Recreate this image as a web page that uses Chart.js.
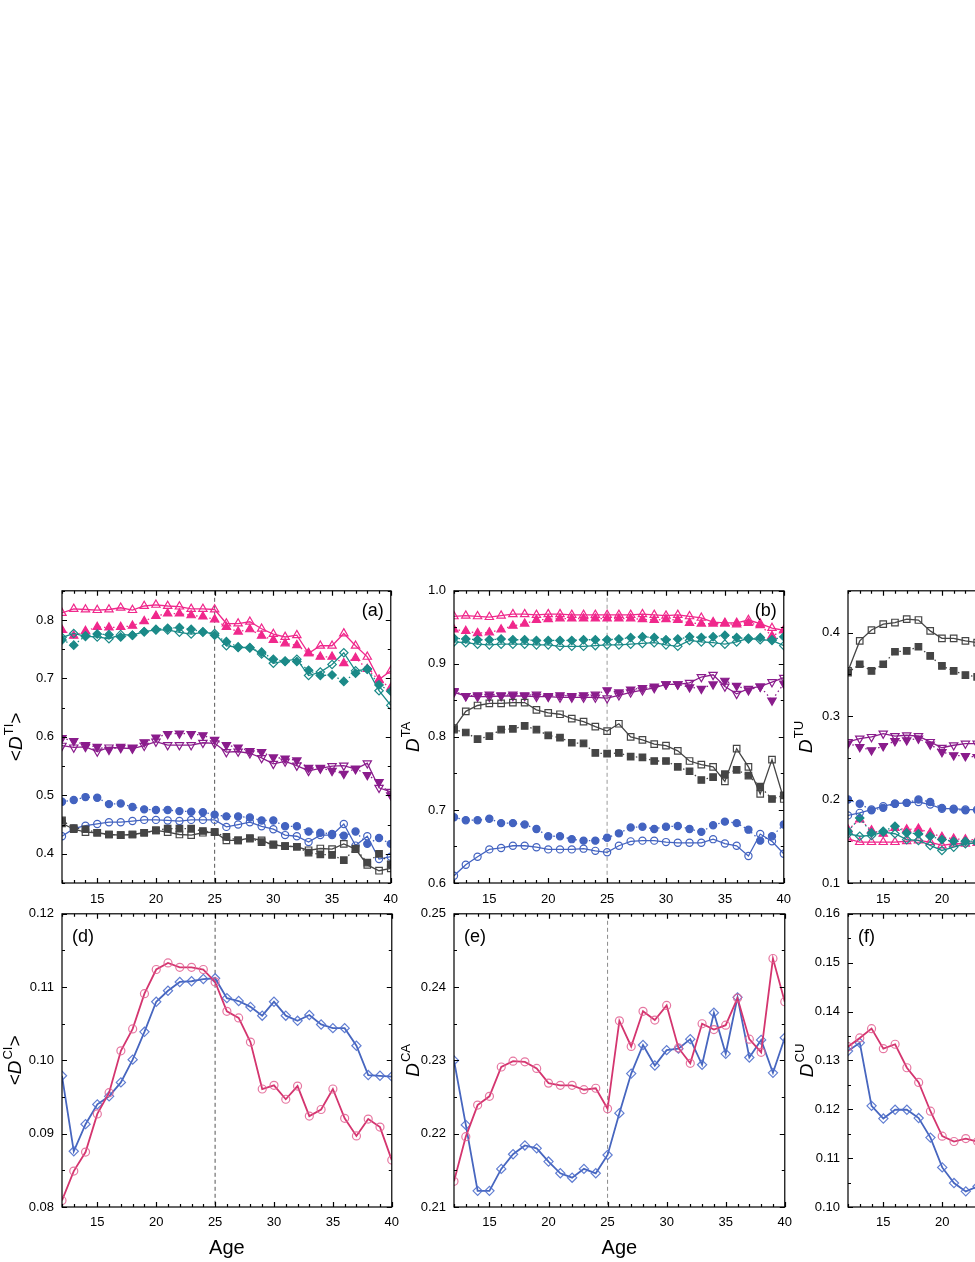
<!DOCTYPE html>
<html>
<head>
<meta charset="utf-8">
<script src="https://cdn.jsdelivr.net/npm/chart.js@4.4.1/dist/chart.umd.min.js"></script>
<style>
  html, body { margin: 0; padding: 0; background: #fff; overflow: hidden; }
  body { width: 975px; height: 1262px; position: relative; }
  canvas { position: absolute; }
</style>
</head>
<body>
<canvas id="pa"></canvas>
<canvas id="pb"></canvas>
<canvas id="pc"></canvas>
<canvas id="pd"></canvas>
<canvas id="pe"></canvas>
<canvas id="pf"></canvas>
<script>
// ages on the x axis (panels c and f run off the right edge, so only the first part is kept)
const ages = [12, 13, 14, 15, 16, 17, 18, 19, 20, 21, 22, 23, 24, 25, 26, 27, 28, 29, 30, 31, 32, 33, 34, 35, 36, 37, 38, 39, 40];
const agesShort = ages.slice(0, 12);

const xTicks = [15, 20, 25, 30, 35, 40];
const yTicksA = [0.4, 0.5, 0.6, 0.7, 0.8];
const yTicksB = [0.6, 0.7, 0.8, 0.9, 1.0];
const yTicksC = [0.1, 0.2, 0.3, 0.4];
const yTicksD = [0.08, 0.09, 0.10, 0.11, 0.12];
const yTicksE = [0.21, 0.22, 0.23, 0.24, 0.25];
const yTicksF = [0.10, 0.11, 0.12, 0.13, 0.14, 0.15, 0.16];

// (a) <D^TI>
const aPinkOpen   = [0.812, 0.819, 0.818, 0.817, 0.818, 0.821, 0.817, 0.824, 0.826, 0.824, 0.823, 0.819, 0.819, 0.818, 0.794, 0.794, 0.797, 0.785, 0.776, 0.771, 0.774, 0.743, 0.756, 0.756, 0.777, 0.756, 0.737, 0.698, 0.713];
const aPinkFill   = [0.783, 0.773, 0.781, 0.788, 0.787, 0.788, 0.790, 0.798, 0.807, 0.811, 0.811, 0.808, 0.806, 0.801, 0.788, 0.780, 0.784, 0.773, 0.766, 0.760, 0.757, 0.743, 0.737, 0.737, 0.726, 0.735, 0.716, 0.697, 0.684];
const aTealOpen   = [0.770, 0.777, 0.772, 0.771, 0.768, 0.775, 0.774, 0.780, 0.783, 0.783, 0.779, 0.776, 0.779, 0.777, 0.756, 0.753, 0.753, 0.742, 0.726, 0.730, 0.733, 0.705, 0.711, 0.724, 0.744, 0.713, 0.716, 0.679, 0.654];
const aTealFill   = [0.766, 0.757, 0.773, 0.776, 0.775, 0.771, 0.774, 0.780, 0.784, 0.786, 0.787, 0.784, 0.780, 0.774, 0.763, 0.754, 0.752, 0.745, 0.733, 0.729, 0.729, 0.714, 0.705, 0.706, 0.695, 0.709, 0.716, 0.689, 0.678];
const aPurpleOpen = [0.585, 0.582, 0.583, 0.575, 0.582, 0.581, 0.580, 0.585, 0.592, 0.586, 0.586, 0.586, 0.590, 0.589, 0.574, 0.575, 0.572, 0.564, 0.554, 0.558, 0.551, 0.542, 0.546, 0.550, 0.551, 0.545, 0.555, 0.513, 0.506];
const aPurpleFill = [0.598, 0.593, 0.586, 0.583, 0.578, 0.583, 0.582, 0.591, 0.599, 0.605, 0.606, 0.605, 0.603, 0.595, 0.586, 0.582, 0.576, 0.574, 0.565, 0.563, 0.560, 0.547, 0.547, 0.542, 0.537, 0.546, 0.535, 0.523, 0.500];
const aBlueOpen   = [0.430, 0.443, 0.448, 0.451, 0.454, 0.454, 0.456, 0.458, 0.458, 0.457, 0.456, 0.458, 0.458, 0.458, 0.446, 0.450, 0.454, 0.447, 0.442, 0.432, 0.430, 0.420, 0.432, 0.432, 0.451, 0.414, 0.430, 0.391, 0.395];
const aBlueFill   = [0.489, 0.492, 0.497, 0.496, 0.485, 0.486, 0.480, 0.476, 0.475, 0.475, 0.473, 0.472, 0.471, 0.467, 0.464, 0.464, 0.462, 0.457, 0.457, 0.447, 0.447, 0.438, 0.436, 0.434, 0.431, 0.438, 0.417, 0.427, 0.417];
const aGrayOpen   = [0.452, 0.442, 0.437, 0.436, 0.433, 0.432, 0.433, 0.436, 0.440, 0.437, 0.433, 0.432, 0.436, 0.437, 0.423, 0.423, 0.427, 0.423, 0.415, 0.413, 0.412, 0.406, 0.409, 0.408, 0.417, 0.408, 0.381, 0.371, 0.375];
const aGrayFill   = [0.457, 0.444, 0.442, 0.436, 0.433, 0.432, 0.433, 0.436, 0.440, 0.443, 0.443, 0.443, 0.439, 0.437, 0.429, 0.423, 0.426, 0.420, 0.416, 0.413, 0.412, 0.402, 0.399, 0.398, 0.389, 0.409, 0.385, 0.400, 0.382];

// (b) D^TA
const bPinkOpen   = [0.965, 0.966, 0.965, 0.964, 0.966, 0.968, 0.968, 0.967, 0.968, 0.968, 0.967, 0.967, 0.967, 0.967, 0.967, 0.967, 0.968, 0.967, 0.966, 0.967, 0.965, 0.963, 0.957, 0.956, 0.956, 0.960, 0.955, 0.949, 0.946];
const bPinkFill   = [0.947, 0.945, 0.942, 0.943, 0.947, 0.952, 0.955, 0.960, 0.961, 0.962, 0.962, 0.962, 0.962, 0.962, 0.962, 0.962, 0.961, 0.960, 0.961, 0.960, 0.956, 0.955, 0.955, 0.955, 0.954, 0.956, 0.953, 0.938, 0.946];
const bTealOpen   = [0.930, 0.929, 0.927, 0.926, 0.927, 0.927, 0.927, 0.926, 0.926, 0.924, 0.924, 0.924, 0.925, 0.926, 0.926, 0.927, 0.928, 0.929, 0.926, 0.924, 0.932, 0.930, 0.929, 0.927, 0.930, 0.935, 0.933, 0.932, 0.925];
const bTealFill   = [0.935, 0.934, 0.933, 0.933, 0.934, 0.933, 0.933, 0.932, 0.932, 0.932, 0.932, 0.933, 0.933, 0.933, 0.934, 0.936, 0.937, 0.936, 0.933, 0.934, 0.937, 0.936, 0.937, 0.939, 0.936, 0.934, 0.936, 0.933, 0.937];
const bPurpleOpen = [0.861, 0.856, 0.855, 0.855, 0.856, 0.856, 0.856, 0.855, 0.855, 0.854, 0.854, 0.854, 0.854, 0.853, 0.857, 0.861, 0.864, 0.867, 0.872, 0.872, 0.874, 0.882, 0.885, 0.869, 0.859, 0.866, 0.869, 0.875, 0.881];
const bPurpleFill = [0.863, 0.856, 0.857, 0.858, 0.857, 0.858, 0.857, 0.858, 0.856, 0.857, 0.856, 0.857, 0.858, 0.864, 0.861, 0.865, 0.867, 0.869, 0.872, 0.872, 0.868, 0.866, 0.872, 0.877, 0.870, 0.864, 0.869, 0.850, 0.873];
const bGrayOpen   = [0.812, 0.835, 0.843, 0.846, 0.846, 0.847, 0.847, 0.837, 0.833, 0.831, 0.825, 0.821, 0.814, 0.808, 0.818, 0.800, 0.796, 0.790, 0.788, 0.781, 0.767, 0.762, 0.759, 0.739, 0.784, 0.759, 0.722, 0.769, 0.715];
const bGrayFill   = [0.810, 0.806, 0.797, 0.801, 0.810, 0.811, 0.815, 0.810, 0.802, 0.799, 0.792, 0.791, 0.778, 0.777, 0.778, 0.773, 0.772, 0.767, 0.767, 0.759, 0.753, 0.741, 0.745, 0.749, 0.755, 0.747, 0.732, 0.715, 0.720];
const bBlueOpen   = [0.610, 0.625, 0.636, 0.646, 0.648, 0.651, 0.651, 0.649, 0.646, 0.646, 0.646, 0.647, 0.644, 0.642, 0.651, 0.657, 0.658, 0.658, 0.656, 0.655, 0.655, 0.655, 0.660, 0.654, 0.651, 0.637, 0.667, 0.657, 0.640];
const bBlueFill   = [0.690, 0.686, 0.686, 0.688, 0.682, 0.682, 0.680, 0.674, 0.664, 0.664, 0.660, 0.658, 0.658, 0.662, 0.668, 0.676, 0.677, 0.674, 0.677, 0.678, 0.674, 0.670, 0.679, 0.684, 0.682, 0.673, 0.658, 0.664, 0.680];

// (c) D^TU, ages 12-23
const cPinkOpen   = [0.153, 0.149, 0.149, 0.149, 0.149, 0.150, 0.151, 0.149, 0.145, 0.147, 0.147, 0.148];
const cPinkFill   = [0.164, 0.176, 0.163, 0.159, 0.166, 0.164, 0.165, 0.160, 0.155, 0.153, 0.152, 0.152];
const cTealOpen   = [0.159, 0.156, 0.157, 0.161, 0.159, 0.152, 0.151, 0.145, 0.139, 0.143, 0.147, 0.148];
const cTealFill   = [0.162, 0.178, 0.160, 0.162, 0.168, 0.160, 0.159, 0.156, 0.152, 0.150, 0.150, 0.150];
const cPurpleOpen = [0.269, 0.273, 0.275, 0.279, 0.276, 0.277, 0.276, 0.269, 0.262, 0.265, 0.267, 0.267];
const cPurpleFill = [0.267, 0.263, 0.259, 0.264, 0.270, 0.271, 0.273, 0.266, 0.257, 0.253, 0.252, 0.251];
const cBlueOpen   = [0.181, 0.184, 0.188, 0.192, 0.195, 0.196, 0.197, 0.194, 0.189, 0.189, 0.188, 0.188];
const cBlueFill   = [0.200, 0.195, 0.187, 0.190, 0.195, 0.196, 0.200, 0.197, 0.190, 0.188, 0.187, 0.187];
const cGrayOpen   = [0.354, 0.390, 0.403, 0.410, 0.412, 0.416, 0.415, 0.402, 0.393, 0.393, 0.390, 0.388];
const cGrayFill   = [0.352, 0.362, 0.354, 0.362, 0.377, 0.378, 0.383, 0.372, 0.360, 0.354, 0.349, 0.347];

// (d) <D^CI>, (e) D^CA, (f) D^CU
const dPink = [0.0809, 0.0849, 0.0875, 0.0927, 0.0956, 0.1013, 0.1043, 0.1091, 0.1124, 0.1133, 0.1127, 0.1127, 0.1124, 0.1107, 0.1067, 0.1058, 0.1025, 0.0961, 0.0966, 0.0947, 0.0965, 0.0924, 0.0933, 0.0961, 0.0921, 0.0897, 0.0920, 0.0909, 0.0864];
const dBlue = [0.0979, 0.0876, 0.0913, 0.0940, 0.0951, 0.0970, 0.1001, 0.1039, 0.1080, 0.1095, 0.1107, 0.1108, 0.1111, 0.1112, 0.1085, 0.1081, 0.1073, 0.1061, 0.1080, 0.1061, 0.1054, 0.1062, 0.1049, 0.1044, 0.1044, 0.1020, 0.0980, 0.0979, 0.0978];
const ePink = [0.2135, 0.2196, 0.2239, 0.2251, 0.2291, 0.2299, 0.2298, 0.2289, 0.2269, 0.2266, 0.2266, 0.2260, 0.2262, 0.2234, 0.2354, 0.2319, 0.2367, 0.2355, 0.2375, 0.2317, 0.2296, 0.2350, 0.2342, 0.2348, 0.2385, 0.2329, 0.2311, 0.2439, 0.2380];
const eBlue = [0.2300, 0.2212, 0.2122, 0.2122, 0.2152, 0.2172, 0.2184, 0.2180, 0.2162, 0.2146, 0.2140, 0.2152, 0.2146, 0.2171, 0.2228, 0.2282, 0.2321, 0.2293, 0.2314, 0.2316, 0.2329, 0.2294, 0.2365, 0.2309, 0.2386, 0.2304, 0.2328, 0.2283, 0.2331];
const fPink = [0.1328, 0.1346, 0.1365, 0.1324, 0.1333, 0.1285, 0.1255, 0.1196, 0.1145, 0.1134, 0.1140, 0.1134];
const fBlue = [0.1319, 0.1336, 0.1207, 0.1181, 0.1199, 0.1199, 0.1182, 0.1142, 0.1081, 0.1049, 0.1032, 0.1042];

const FONT = '"Liberation Sans", Arial, sans-serif';
const PINK = '#F0288C', TEAL = '#1B8A88', PURPLE = '#8A1C8C', BLUE = '#4363C0', GRAY = '#454545';
const RED2 = '#D4356F', BLUE2 = '#4766BF';

const UP = { style: 'triangle', rot: 0, r: 4.8 };
const DOWN = { style: 'triangle', rot: 180, r: 4.8 };
const DIAMOND = { style: 'rectRot', rot: 0, r: 4.2 };
const CIRCLE = { style: 'circle', rot: 0, r: 3.6 };
const SQUARE = { style: 'rect', rot: 0, r: 4.6 };

function series(xs, values, color, shape, filled, width, markColor) {
    return {
        data: values.map((v, i) => ({ x: xs[i], y: v })),
        borderColor: color,
        backgroundColor: color,
        borderWidth: width,
        borderDash: filled ? [1.5, 3] : [],
        pointStyle: shape.style,
        pointRotation: shape.rot,
        pointRadius: shape.r,
        pointBorderWidth: 1.2,
        pointBorderColor: markColor || color,
        pointBackgroundColor: filled ? color : 'rgba(255,255,255,0)',
        tension: 0,
    };
}

// both states of the five groups, used in the three top panels
function topSets(xs, gO, gF, bO, bF, pO, pF, tO, tF, kO, kF) {
    return [
        series(xs, gF, GRAY, SQUARE, true, 1.3), series(xs, gO, GRAY, SQUARE, false, 1.3),
        series(xs, bF, BLUE, CIRCLE, true, 1.3), series(xs, bO, BLUE, CIRCLE, false, 1.3),
        series(xs, pF, PURPLE, DOWN, true, 1.3), series(xs, pO, PURPLE, DOWN, false, 1.3),
        series(xs, tF, TEAL, DIAMOND, true, 1.3), series(xs, tO, TEAL, DIAMOND, false, 1.3),
        series(xs, kF, PINK, UP, true, 1.3), series(xs, kO, PINK, UP, false, 1.3),
    ];
}

function bottomSets(xs, red, blue) {
    return [
        series(xs, red, RED2, { style: 'circle', rot: 0, r: 4 }, false, 1.8, 'rgba(226,96,146,0.85)'),
        series(xs, blue, BLUE2, { style: 'rectRot', rot: 0, r: 4.6 }, false, 1.8, 'rgba(80,112,205,0.9)'),
    ];
}

// rotated axis title built from pieces: [text, kind] with kind '' / 'i' (italic) / 's' (superscript)
function drawVTitle(ctx, parts, bx, cy, size) {
    const fontOf = k => (k === 'i' ? 'italic ' : '') + (k === 's' ? Math.round(size * 0.66) : size) + 'px ' + FONT;
    let total = 0;
    parts.forEach(([t, k]) => { ctx.font = fontOf(k); total += ctx.measureText(t).width + (k === 's' ? 1 : 0); });
    ctx.save();
    ctx.translate(bx, cy);
    ctx.rotate(-Math.PI / 2);
    ctx.fillStyle = '#000';
    ctx.textBaseline = 'alphabetic';
    ctx.textAlign = 'left';
    let x = -total / 2;
    parts.forEach(([t, k]) => {
        ctx.font = fontOf(k);
        if (k === 's') x += 1;
        ctx.fillText(t, x, k === 's' ? -size * 0.45 : 0);
        x += ctx.measureText(t).width;
    });
    ctx.restore();
}

function framePlugin(p) {
    return {
        id: 'frame',
        beforeDatasetsDraw(chart) {
            const { ctx, chartArea: a, scales: { x } } = chart;
            const px = x.getPixelForValue(25);
            ctx.save();
            ctx.strokeStyle = p.split;
            ctx.lineWidth = 1;
            ctx.setLineDash([4, 3]);
            ctx.beginPath();
            ctx.moveTo(px, a.top);
            ctx.lineTo(px, a.bottom);
            ctx.stroke();
            ctx.restore();
        },
        afterDraw(chart) {
            const { ctx, chartArea: a, scales: { x, y } } = chart;
            ctx.save();
            ctx.strokeStyle = '#000';
            ctx.lineWidth = 1.2;
            ctx.strokeRect(a.left, a.top, a.right - a.left, a.bottom - a.top);
            ctx.beginPath();
            // inward ticks on all four sides
            for (let v = 12; v <= 40; v++) {
                const len = v % 5 === 0 ? 5 : 3;
                const px = Math.round(x.getPixelForValue(v)) + 0.5;
                ctx.moveTo(px, a.bottom); ctx.lineTo(px, a.bottom - len);
                ctx.moveTo(px, a.top); ctx.lineTo(px, a.top + len);
            }
            const n = Math.round((p.yMax - p.yMin) / p.yMinor);
            for (let i = 0; i <= n; i++) {
                const v = p.yMin + i * p.yMinor;
                const major = p.yTicks.some(m => Math.abs(m - v) < 1e-9);
                const len = major ? 5 : 3;
                const py = Math.round(y.getPixelForValue(v)) + 0.5;
                ctx.moveTo(a.left, py); ctx.lineTo(a.left + len, py);
                ctx.moveTo(a.right, py); ctx.lineTo(a.right - len, py);
            }
            ctx.stroke();

            drawVTitle(ctx, p.title, p.titleX, (a.top + a.bottom) / 2, 19);

            ctx.fillStyle = '#000';
            ctx.font = '18px ' + FONT;
            ctx.textBaseline = 'middle';
            if (p.tagRight) {
                ctx.textAlign = 'right';
                ctx.fillText(p.tag, a.right - 7, a.top + 20);
            } else {
                ctx.textAlign = 'left';
                ctx.fillText(p.tag, a.left + 10, a.top + 23);
            }
            if (p.xTitle) {
                ctx.font = '20px ' + FONT;
                ctx.textAlign = 'center';
                ctx.fillText('Age', (a.left + a.right) / 2, a.bottom + 41);
            }
            ctx.restore();
        },
    };
}

const panels = [
    { id: 'pa', area: [62, 587, 395, 883], padB: 26, xPad: 9, yMin: 0.35, yMax: 0.85, yTicks: yTicksA, dec: 1, yMinor: 0.05,
      title: [['<', ''], ['D', 'i'], ['TI', 's'], ['>', '']], titleX: 22, tag: '(a)', tagRight: true, split: '#555',
      sets: topSets(ages, aGrayOpen, aGrayFill, aBlueOpen, aBlueFill, aPurpleOpen, aPurpleFill, aTealOpen, aTealFill, aPinkOpen, aPinkFill) },
    { id: 'pb', area: [454, 587, 788, 883], padB: 26, xPad: 9, yMin: 0.6, yMax: 1.0, yTicks: yTicksB, dec: 1, yMinor: 0.05,
      title: [['D', 'i'], ['TA', 's']], titleX: 27, tag: '(b)', tagRight: true, split: '#9a9a9a',
      sets: topSets(ages, bGrayOpen, bGrayFill, bBlueOpen, bBlueFill, bPurpleOpen, bPurpleFill, bTealOpen, bTealFill, bPinkOpen, bPinkFill) },
    { id: 'pc', area: [848, 587, 1181, 883], padB: 26, xPad: 9, yMin: 0.1, yMax: 0.45, yTicks: yTicksC, dec: 1, yMinor: 0.05,
      title: [['D', 'i'], ['TU', 's']], titleX: 26, tag: '(c)', tagRight: true, split: '#9a9a9a',
      sets: topSets(agesShort, cGrayOpen, cGrayFill, cBlueOpen, cBlueFill, cPurpleOpen, cPurpleFill, cTealOpen, cTealFill, cPinkOpen, cPinkFill) },
    { id: 'pd', area: [62, 910, 395, 1207], padB: 54, xPad: 8, yMin: 0.08, yMax: 0.12, yTicks: yTicksD, dec: 2, yMinor: 0.005,
      title: [['<', ''], ['D', 'i'], ['CI', 's'], ['>', '']], titleX: 21, tag: '(d)', tagRight: false, split: '#555', xTitle: true,
      sets: bottomSets(ages, dPink, dBlue) },
    { id: 'pe', area: [454, 910, 788, 1207], padB: 54, xPad: 8, yMin: 0.21, yMax: 0.25, yTicks: yTicksE, dec: 2, yMinor: 0.005,
      title: [['D', 'i'], ['CA', 's']], titleX: 27, tag: '(e)', tagRight: false, split: '#8a8a8a', xTitle: true,
      sets: bottomSets(ages, ePink, eBlue) },
    { id: 'pf', area: [848, 910, 1181, 1207], padB: 54, xPad: 8, yMin: 0.10, yMax: 0.16, yTicks: yTicksF, dec: 2, yMinor: 0.005,
      title: [['D', 'i'], ['CU', 's']], titleX: 27, tag: '(f)', tagRight: false, split: '#8a8a8a', xTitle: true,
      sets: bottomSets(agesShort, fPink, fBlue) },
];

function makePanel(p) {
    const [L, T, R, B] = p.area;
    const padL = 62, padT = 12, padR = 12;
    const cv = document.getElementById(p.id);
    cv.width = (R - L) + padL + padR;
    cv.height = (B - T) + padT + p.padB;
    cv.style.left = (L - padL) + 'px';
    cv.style.top = (T - padT) + 'px';

    new Chart(cv, {
        type: 'line',
        data: { datasets: p.sets },
        options: {
            responsive: false,
            animation: false,
            events: [],
            layout: { padding: { top: padT, right: padR, left: 0, bottom: 0 } },
            plugins: { legend: { display: false }, tooltip: { enabled: false } },
            scales: {
                x: {
                    type: 'linear', min: 12, max: 40,
                    grid: { display: false, drawTicks: false, tickLength: 0 }, border: { display: false },
                    afterBuildTicks: s => { s.ticks = xTicks.map(v => ({ value: v })); },
                    afterFit: s => { s.height = p.padB; },
                    ticks: { color: '#000', font: { size: 13, family: FONT }, padding: p.xPad, maxRotation: 0, autoSkip: false },
                },
                y: {
                    type: 'linear', min: p.yMin, max: p.yMax,
                    grid: { display: false, drawTicks: false, tickLength: 0 }, border: { display: false },
                    afterBuildTicks: s => { s.ticks = p.yTicks.map(v => ({ value: v })); },
                    afterFit: s => { s.width = padL; },
                    ticks: { color: '#000', font: { size: 13, family: FONT }, padding: 8, callback: v => v.toFixed(p.dec) },
                },
            },
        },
        plugins: [framePlugin(p)],
    });
}

panels.forEach(makePanel);
</script>
</body>
</html>
